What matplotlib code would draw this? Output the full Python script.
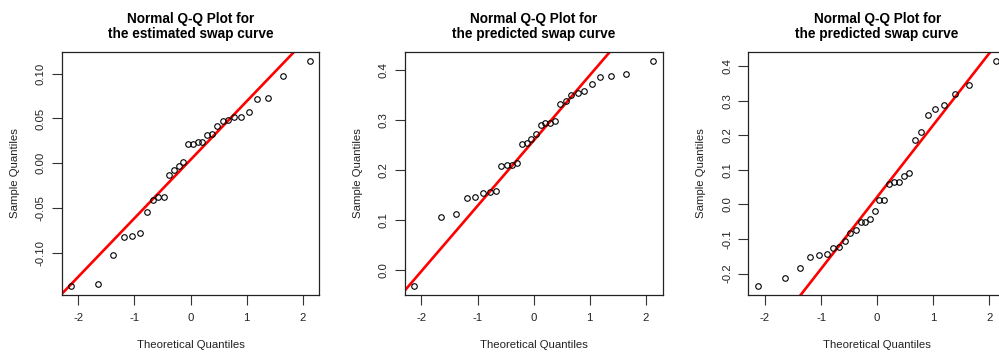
import numpy as np
import matplotlib
matplotlib.use("Agg")
import matplotlib.pyplot as plt
from statistics import NormalDist

plt.rcParams["font.family"] = ["Liberation Sans", "DejaVu Sans"]
plt.rcParams["axes.unicode_minus"] = False

# Sorted sample values for each curve
estimated_curve = [-0.1367, -0.1340, -0.1019, -0.0826, -0.0807, -0.0781, -0.0544, -0.0407,
                   -0.0378, -0.0374, -0.0133, -0.0078, -0.0030, 0.0015, 0.0219, 0.0219,
                   0.0233, 0.0237, 0.0319, 0.0330, 0.0419, 0.0470, 0.0481, 0.0515,
                   0.0519, 0.0574, 0.0715, 0.0726, 0.0978, 0.1144]
predicted_curve_a = [-0.0328, 0.1057, 0.1117, 0.1431, 0.1452, 0.1538, 0.1565, 0.1579,
                     0.2087, 0.2094, 0.2107, 0.2147, 0.2528, 0.2542, 0.2622, 0.2729,
                     0.2910, 0.2943, 0.2950, 0.2990, 0.3324, 0.3378, 0.3505, 0.3538,
                     0.3585, 0.3732, 0.3873, 0.3880, 0.3926, 0.4194]
predicted_curve_b = [-0.2360, -0.2129, -0.1850, -0.1513, -0.1464, -0.1445, -0.1272, -0.1233,
                     -0.1050, -0.0838, -0.0742, -0.0511, -0.0501, -0.0434, -0.0202, 0.0125,
                     0.0135, 0.0588, 0.0645, 0.0645, 0.0829, 0.0906, 0.1850, 0.2080,
                     0.2572, 0.2755, 0.2880, 0.3189, 0.3459, 0.4152]

titles = ["Normal Q-Q Plot for\nthe estimated swap curve",
          "Normal Q-Q Plot for\nthe predicted swap curve",
          "Normal Q-Q Plot for\nthe predicted swap curve"]
x_ticks = [-2, -1, 0, 1, 2]
y_ticks = [[-0.10, -0.05, 0.00, 0.05, 0.10],
           [0.0, 0.1, 0.2, 0.3, 0.4],
           [-0.2, -0.1, 0.0, 0.1, 0.2, 0.3, 0.4]]
y_tick_fmt = ["{:.2f}", "{:.1f}", "{:.1f}"]
samples = [estimated_curve, predicted_curve_a, predicted_curve_b]

W, H = 999, 353
fig = plt.figure(figsize=(W / 100, H / 100), dpi=100)

# axes boxes in pixels: left, right, top, bottom
boxes = [(61.7, 319.3, 51.7, 295.0),
         (404.7, 662.5, 51.7, 295.0),
         (748.3, 1006.0, 51.7, 295.0)]

nd = NormalDist()


def padded(lo, hi, frac=0.04):
    d = (hi - lo) * frac
    return lo - d, hi + d


for k, (data, box) in enumerate(zip(samples, boxes)):
    l, r, t, b = box
    ax = fig.add_axes([l / W, 1 - b / H, (r - l) / W, (b - t) / H])
    y = np.sort(np.array(data))
    n = len(y)
    theo = np.array([nd.inv_cdf((i - 0.5) / n) for i in range(1, n + 1)])

    ax.plot(theo, y, linestyle="none", marker="o", markersize=4.0,
            markerfacecolor="none", markeredgecolor="black", markeredgewidth=0.8,
            zorder=3)

    # reference line through the first and third quartiles
    q1, q3 = np.percentile(y, [25, 75])
    t1, t3 = nd.inv_cdf(0.25), nd.inv_cdf(0.75)
    slope = (q3 - q1) / (t3 - t1)
    intercept = q1 - slope * t1
    ax.axline((0, intercept), slope=slope, color="#ff0000", linewidth=1.9, zorder=2)

    ax.set_xlim(*padded(theo.min(), theo.max()))
    ax.set_ylim(*padded(y.min(), y.max()))

    ax.set_xticks(x_ticks)
    ax.set_xticklabels([str(v) for v in x_ticks])
    ax.set_yticks(y_ticks[k])
    ax.set_yticklabels([y_tick_fmt[k].format(v) for v in y_ticks[k]],
                       rotation=90, va="center")
    ax.tick_params(axis="both", length=7, width=0.8, color="#333333",
                   labelsize=8.2, labelcolor="#222222")
    ax.tick_params(axis="x", pad=6)
    ax.tick_params(axis="y", pad=4.5)
    for s in ax.spines.values():
        s.set_linewidth(0.9)
        s.set_color("#222222")

    ax.set_title(titles[k], fontsize=9.8, fontweight="bold", linespacing=1.05,
                 pad=10)
    ax.set_xlabel("Theoretical Quantiles", fontsize=8.2, color="#222222", va="center")
    ax.set_ylabel("Sample Quantiles", fontsize=8.2, color="#222222", va="center")
    pw, ph = r - l, b - t
    ax.xaxis.set_label_coords(0.5, -50 / ph)
    ax.yaxis.set_label_coords(-47 / pw, 0.5)

fig.savefig("out.png", dpi=100)
